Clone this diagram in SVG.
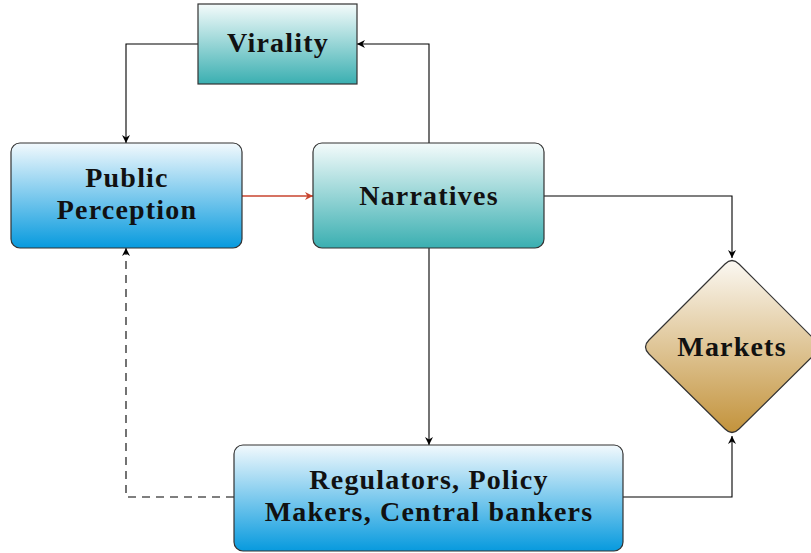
<svg xmlns="http://www.w3.org/2000/svg" width="811" height="553" viewBox="0 0 811 553">
<defs>
<linearGradient id="gTeal" x1="0" y1="0" x2="0" y2="1"><stop offset="0" stop-color="#f4fbfb"/><stop offset="1" stop-color="#3aafb1"/></linearGradient>
<linearGradient id="gBlue" x1="0" y1="0" x2="0" y2="1"><stop offset="0" stop-color="#f2f9fd"/><stop offset="1" stop-color="#079ade"/></linearGradient>
<linearGradient id="gGold" x1="0" y1="0" x2="0" y2="1"><stop offset="0" stop-color="#fbf8f2"/><stop offset="1" stop-color="#c3933c"/></linearGradient>
<marker id="ah" viewBox="0 0 10 10" refX="10" refY="5" markerWidth="8" markerHeight="8" markerUnits="userSpaceOnUse" orient="auto"><path d="M0,0 L10,5 L0,10 L3,5 Z" fill="#000"/></marker>
<marker id="ahr" viewBox="0 0 10 10" refX="10" refY="5" markerWidth="8" markerHeight="8" markerUnits="userSpaceOnUse" orient="auto"><path d="M0,0 L10,5 L0,10 L3,5 Z" fill="#c8452f"/></marker>
</defs>
<style>
.node{stroke:#333;stroke-width:1.2}
.t{font-family:"Liberation Serif",serif;font-weight:bold;font-size:28px;letter-spacing:1.2px;fill:#111;text-anchor:middle}
.c{fill:none;stroke:#000;stroke-width:1.1}
</style>
<rect width="811" height="553" fill="#fff"/>
<g id="connectors">
<path class="c" d="M198,44 H126 V143" marker-end="url(#ah)"/>
<path class="c" d="M429,143 V44 H357" marker-end="url(#ah)"/>
<path class="c" d="M242,196 H313" style="stroke:#c8452f;stroke-width:1.6" marker-end="url(#ahr)"/>
<path class="c" d="M544,196 H732 V258" marker-end="url(#ah)"/>
<path class="c" d="M429,248 V445" marker-end="url(#ah)"/>
<path class="c" d="M623,497 H732 V436" marker-end="url(#ah)"/>
<path class="c" d="M234,497 H126 V248" stroke-dasharray="8,6" marker-end="url(#ah)"/>
</g>
<g id="virality">
<rect class="node" x="198" y="4" width="159" height="80" fill="url(#gTeal)"/>
<text class="t" x="278" y="52">Virality</text>
</g>
<g id="public-perception">
<rect class="node" x="11" y="143" width="231" height="105" rx="9" fill="url(#gBlue)"/>
<text class="t" x="127" y="187">Public</text>
<text class="t" x="127" y="219">Perception</text>
</g>
<g id="narratives">
<rect class="node" x="313" y="143" width="231" height="105" rx="9" fill="url(#gTeal)"/>
<text class="t" x="429" y="205">Narratives</text>
</g>
<g id="markets">
<path class="node" d="M725,264 Q732,257 739,264 L815,340 Q822,347 815,354 L739,429 Q732,436 725,429 L649,354 Q642,347 649,340 Z" fill="url(#gGold)"/>
<text class="t" x="732" y="356">Markets</text>
</g>
<g id="regulators">
<rect class="node" x="234" y="445" width="389" height="106" rx="9" fill="url(#gBlue)"/>
<text class="t" x="429" y="489">Regulators, Policy</text>
<text class="t" x="429" y="521">Makers, Central bankers</text>
</g>
</svg>
